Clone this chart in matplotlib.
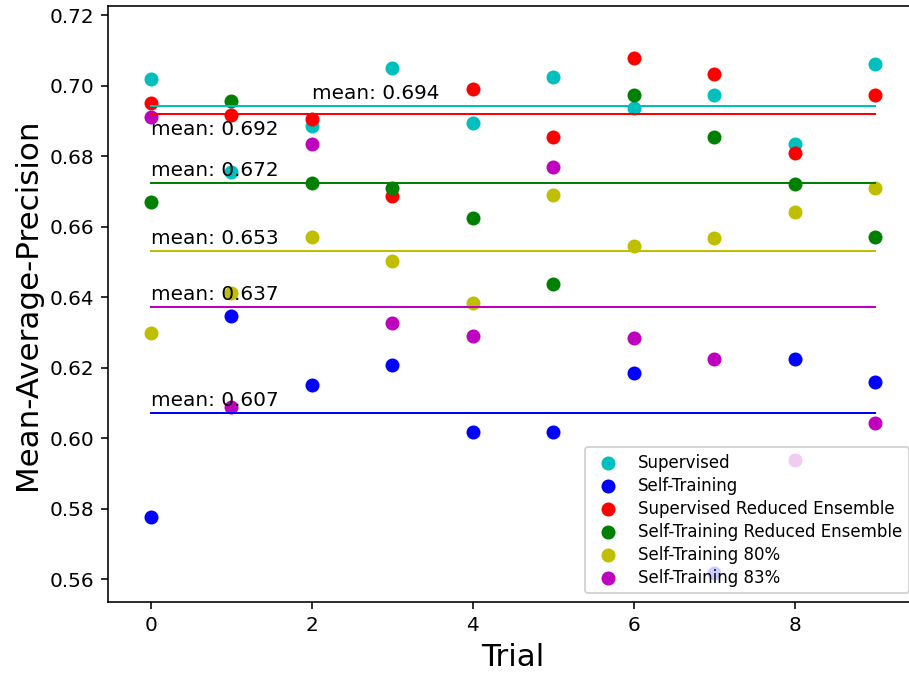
import numpy as np
import matplotlib
matplotlib.use("Agg")
import matplotlib.pyplot as plt

# mAP per trial for each training setup
trials = np.arange(10)

supervised = [0.7018, 0.6756, 0.6885, 0.7051, 0.6894, 0.7025, 0.6937, 0.6973, 0.6834, 0.7063]
self_training = [0.5778, 0.6347, 0.6151, 0.6207, 0.6019, 0.6019, 0.6185, 0.5619, 0.6224, 0.6160]
supervised_re = [0.6950, 0.6916, 0.6907, 0.6687, 0.6991, 0.6855, 0.7080, 0.7033, 0.6808, 0.6973]
self_training_re = [0.6670, 0.6957, 0.6725, 0.6711, 0.6626, 0.6439, 0.6974, 0.6855, 0.6721, 0.6570]
self_training_80 = [0.6300, 0.6411, 0.6571, 0.6503, 0.6384, 0.6690, 0.6545, 0.6567, 0.6643, 0.6711]
self_training_83 = [0.6912, 0.6088, 0.6834, 0.6326, 0.6291, 0.6770, 0.6286, 0.6224, 0.5938, 0.6045]

labels = ['Supervised', 'Self-Training', 'Supervised Reduced Ensemble',
          'Self-Training Reduced Ensemble', 'Self-Training 80%', 'Self-Training 83%']
colors = ['c', 'b', 'r', 'g', 'y', 'm']
results = [supervised, self_training, supervised_re, self_training_re,
           self_training_80, self_training_83]

# where to put the "mean: x" annotation for each run (trial, offset from line)
text_x = [2, 0, 0, 0, 0, 0]
text_dy = [0.002, 0.002, -0.006, 0.002, 0.002, 0.002]

dpi = 144
fig = plt.figure(figsize=(909 / dpi, 676 / dpi), dpi=dpi)
ax = fig.add_axes([0.1191, 0.1099, 0.8902, 0.8812])

for vals, label, color in zip(results, labels, colors):
    ax.scatter(trials, vals, c=color, s=36, linewidths=1, edgecolors='face', label=label)

for vals, color, tx, dy in zip(results, colors, text_x, text_dy):
    mean = np.mean(vals)
    ax.plot([trials[0], trials[-1]], [mean, mean], color=color, linewidth=1)
    ax.text(tx, mean + dy, 'mean: %.3f' % mean, fontsize=10)

ax.set_xlim(-0.527, 9.527)
ax.set_ylim(0.5537, 0.7226)
ax.set_xticks([0, 2, 4, 6, 8])
ax.set_yticks(np.arange(0.56, 0.7201, 0.02))
ax.set_yticklabels(['%.2f' % v for v in np.arange(0.56, 0.7201, 0.02)])

ax.set_xlabel('Trial', fontsize=15.5)
ax.set_ylabel('Mean-Average-Precision', fontsize=15.5)
ax.legend(loc='lower right', fontsize='small', labelspacing=0.3)

fig.savefig('out.png', dpi=dpi)
